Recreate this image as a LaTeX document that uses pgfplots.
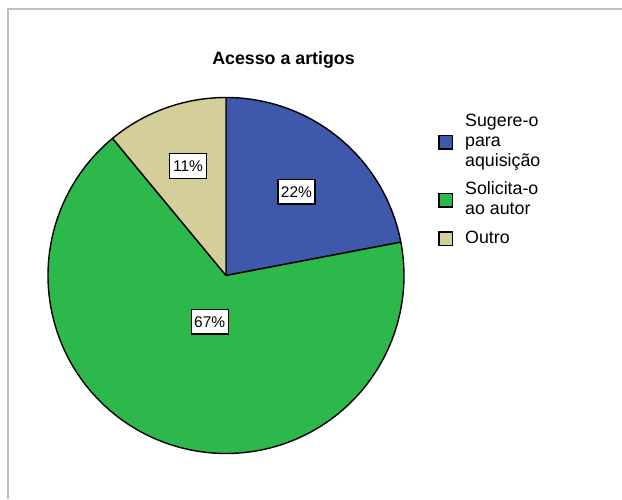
\documentclass[border=0pt]{standalone}
\usepackage{pgfplots}
\pgfplotsset{compat=1.18}
\usepackage{pgfplotstable}
\usepackage{fontspec}
\setmainfont{Liberation Sans}
\definecolor{cBlue}{RGB}{62,88,172}
\definecolor{cGreen}{RGB}{45,184,75}
\definecolor{cTan}{RGB}{212,206,153}
\definecolor{frameGray}{RGB}{192,192,192}

\pgfplotstableread{
label value
Sugere 22
Solicita 67
Outro 11
}\piedata

\begin{document}
\begin{tikzpicture}
\useasboundingbox (0,0) rectangle (622pt,499pt);
\pgfplotstablegetelem{0}{value}\of\piedata \let\vA\pgfplotsretval
\pgfplotstablegetelem{1}{value}\of\piedata \let\vB\pgfplotsretval
\pgfplotstablegetelem{2}{value}\of\piedata \let\vC\pgfplotsretval
\pgfmathsetmacro\aStart{90}
\pgfmathsetmacro\aA{90-3.6*\vA}
\pgfmathsetmacro\aB{\aA-3.6*\vB}
\pgfmathsetmacro\aC{\aB-3.6*\vC}
\begin{axis}[
  at={(0,0)}, anchor=south west,
  width=622pt, height=499pt, scale only axis,
  xmin=0, xmax=622, ymin=0, ymax=499,
  axis lines=none, clip=false,
]
% frame
\draw[frameGray, line width=2pt] (8.3,0) -- (8.3,490) -- (622,490);
% title
\node[anchor=base, font=\fontsize{17.8}{20}\selectfont\bfseries] at (283.5,434) {Acesso a artigos};
% pie slices
\addplot[fill=cBlue, draw=black, line width=1.4pt, line join=round, domain=\aA:\aStart, samples=120, variable=\t]
  ({226+178*cos(\t)},{223.5+178*sin(\t)}) -- (226,223.5) -- cycle;
\addplot[fill=cGreen, draw=black, line width=1.4pt, line join=round, domain=\aB:\aA, samples=240, variable=\t]
  ({226+178*cos(\t)},{223.5+178*sin(\t)}) -- (226,223.5) -- cycle;
\addplot[fill=cTan, draw=black, line width=1.4pt, line join=round, domain=\aC:\aB, samples=60, variable=\t]
  ({226+178*cos(\t)},{223.5+178*sin(\t)}) -- (226,223.5) -- cycle;
% percentage labels
\tikzset{pct/.style={draw=black, line width=1.3pt, fill=white, inner sep=0pt, minimum width=37pt, minimum height=24.5pt, font=\fontsize{15.5}{17}\selectfont}}
\node[pct] at (296.5,307.3) {22\%};
\node[pct] at (188,333) {11\%};
\node[pct] at (209.7,177.3) {67\%};
% legend
\tikzset{lsq/.style={draw=black, line width=1.6pt, minimum size=13.5pt, inner sep=0pt}, ltx/.style={anchor=base west, inner sep=0pt, font=\fontsize{17.8}{20}\selectfont}}
\node[lsq, fill=cBlue] at (445.8,356.8) {};
\node[lsq, fill=cGreen] at (445.8,298.7) {};
\node[lsq, fill=cTan] at (445.8,260.3) {};
\node[ltx] at (465,372.3) {Sugere-o};
\node[ltx] at (465,352.3) {para};
\node[ltx] at (465,332.3) {aquisição};
\node[ltx] at (465,304) {Solicita-o};
\node[ltx] at (465,284) {ao autor};
\node[ltx] at (465,255.7) {Outro};
\end{axis}
\end{tikzpicture}
\end{document}
